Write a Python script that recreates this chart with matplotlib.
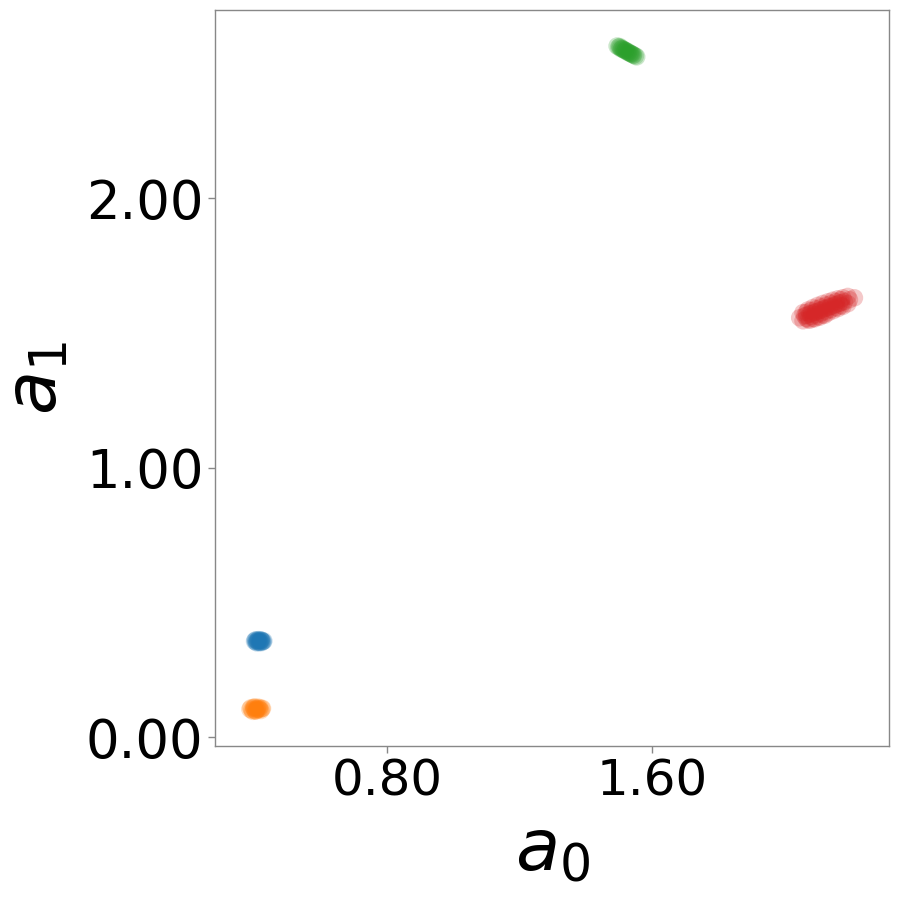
import matplotlib
matplotlib.use("Agg")
import matplotlib.pyplot as plt

blue_x = [0.400,0.404,0.409,0.414,0.419,0.424,0.428,0.402,0.407,0.412,0.417,0.422,0.426,0.405,0.411,0.416,0.421,0.413,0.408,0.420]
blue_y = [0.356,0.353,0.359,0.351,0.361,0.355,0.357,0.360,0.350,0.362,0.352,0.358,0.355,0.361,0.354,0.357,0.351,0.359,0.356,0.360]

orange_x = [0.386,0.392,0.398,0.404,0.410,0.416,0.422,0.389,0.395,0.401,0.407,0.413,0.419,0.424,0.397,0.403,0.409,0.415,0.400,0.406]
orange_y = [0.104,0.100,0.108,0.097,0.111,0.103,0.106,0.109,0.096,0.112,0.101,0.105,0.099,0.107,0.111,0.098,0.104,0.110,0.102,0.106]

green_x = [1.494,1.499,1.504,1.509,1.514,1.519,1.524,1.529,1.534,1.539,1.544,1.549,1.553,1.502,1.512,1.522,1.532,1.542,1.507,1.517,1.527,1.537]
green_y = [2.564,2.560,2.557,2.555,2.550,2.548,2.543,2.541,2.536,2.534,2.530,2.527,2.524,2.562,2.552,2.546,2.538,2.531,2.553,2.547,2.540,2.535]

red_x = [2.045,2.060,2.075,2.090,2.105,2.120,2.135,2.150,2.165,2.180,2.195,2.210,
         2.055,2.070,2.085,2.100,2.115,2.130,2.145,2.160,2.175,2.190,
         2.055,2.070,2.085,2.100,2.115,2.130,2.145,2.160,2.175,2.190,
         2.065,2.080,2.095,2.110,2.125,2.140,2.155,2.170,
         2.065,2.080,2.095,2.110,2.125,2.140,2.155,2.170,
         2.065,2.080,2.095,2.110,2.125,2.140,2.155,2.170,
         2.075,2.090,2.105,2.120]
red_y = [1.556,1.563,1.570,1.576,1.583,1.590,1.596,1.603,1.610,1.616,1.623,1.630,
         1.575,1.585,1.594,1.602,1.609,1.615,1.621,1.626,1.630,1.635,
         1.545,1.549,1.553,1.560,1.567,1.574,1.582,1.590,1.598,1.608,
         1.576,1.583,1.589,1.596,1.603,1.609,1.616,1.623,
         1.554,1.561,1.567,1.574,1.581,1.587,1.594,1.601,
         1.565,1.572,1.578,1.585,1.592,1.598,1.605,1.612,
         1.547,1.552,1.558,1.565]

series = [(blue_x, blue_y, "#1f77b4"), (orange_x, orange_y, "#ff7f0e"),
          (green_x, green_y, "#2ca02c"), (red_x, red_y, "#d62728")]

fig = plt.figure(figsize=(9, 9), dpi=100)
ax = fig.add_axes([0.239, 0.171, 0.749, 0.818])
for xs, ys, c in series:
    ax.scatter(xs, ys, s=160, color=c, alpha=0.25, edgecolors="none")

ax.set_xlim(0.281, 2.315)
ax.set_ylim(-0.033, 2.698)
ax.set_xticks([0.8, 1.6])
ax.set_xticklabels(["0.80", "1.60"])
ax.set_yticks([0.0, 1.0, 2.0])
ax.set_yticklabels(["0.00", "1.00", "2.00"])
ax.tick_params(axis="x", labelsize=36, color="#888888", length=5, width=1)
ax.tick_params(axis="y", labelsize=38, color="#888888", length=5, width=1)
for sp in ax.spines.values():
    sp.set_color("#888888")
    sp.set_linewidth(1)
ax.set_xlabel(r"$a_0$", fontsize=52, labelpad=8)
ax.set_ylabel(r"$a_1$", fontsize=52, labelpad=10)
fig.savefig("out.png", dpi=100)
